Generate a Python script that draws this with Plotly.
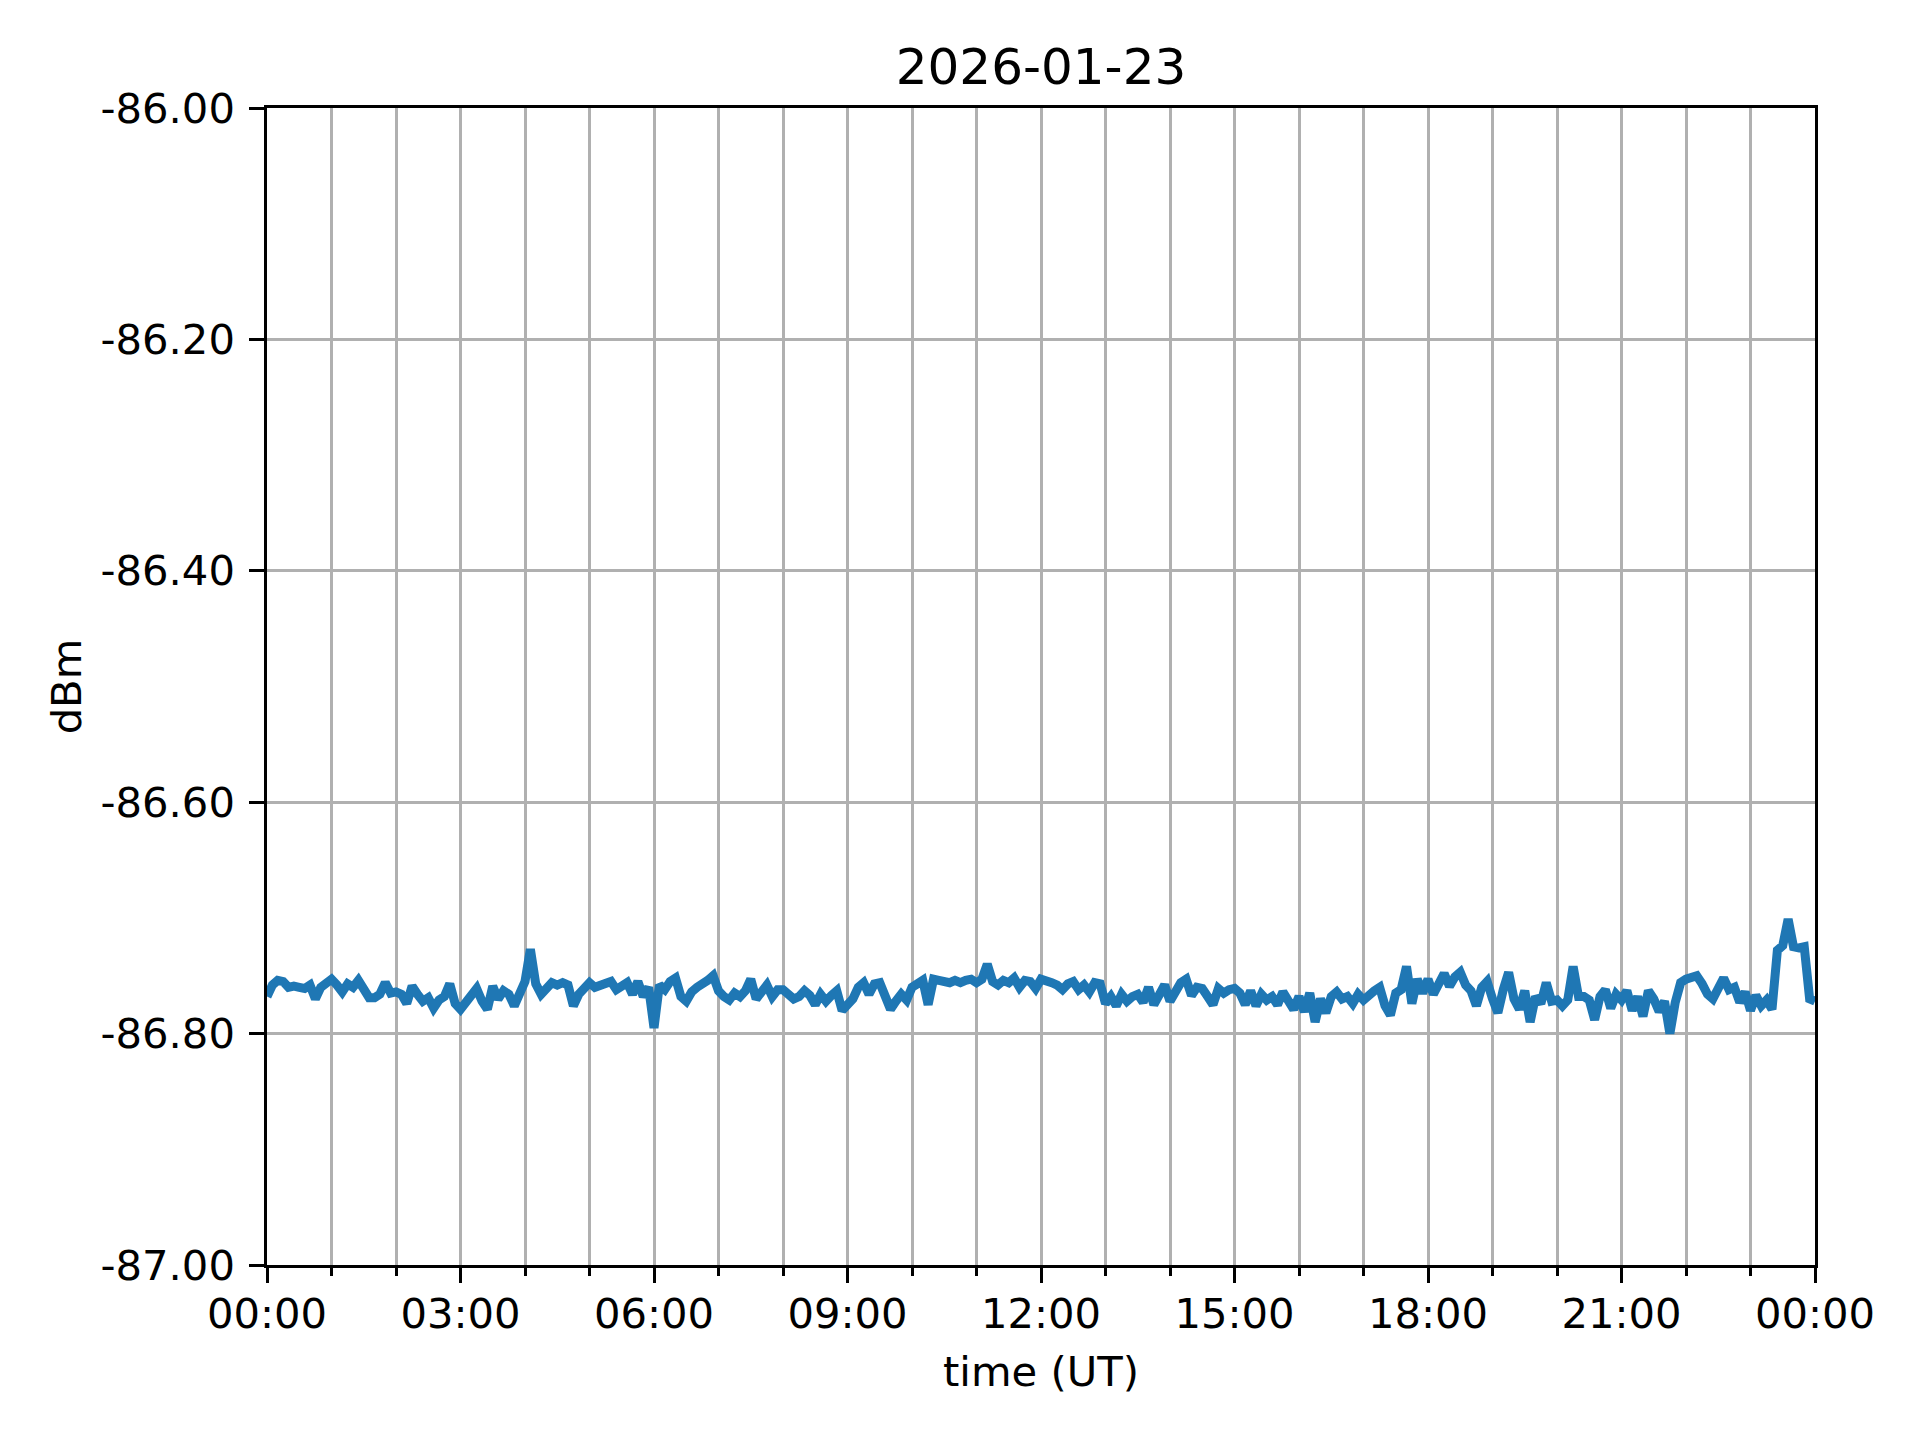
import pandas as pd
import plotly.graph_objects as go

# 5-minute samples, 2026-01-23 00:00 .. 2026-01-24 00:00 (UT)
start_time = '2026-01-23 00:00'
sample_step = '5min'

dbm_h00 = [-86.768, -86.758, -86.754, -86.755, -86.760, -86.759, -86.760, -86.761, -86.758, -86.770, -86.760, -86.757]
dbm_h01 = [-86.753, -86.758, -86.764, -86.757, -86.760, -86.754, -86.763, -86.769, -86.769, -86.766, -86.756, -86.765]
dbm_h02 = [-86.764, -86.766, -86.774, -86.759, -86.766, -86.772, -86.769, -86.778, -86.771, -86.768, -86.757, -86.774]
dbm_h03 = [-86.779, -86.772, -86.765, -86.761, -86.772, -86.779, -86.759, -86.770, -86.763, -86.766, -86.776, -86.764]
dbm_h04 = [-86.755, -86.727, -86.757, -86.766, -86.760, -86.756, -86.758, -86.756, -86.758, -86.776, -86.766, -86.760]
dbm_h05 = [-86.756, -86.760, -86.758, -86.757, -86.755, -86.762, -86.758, -86.756, -86.766, -86.755, -86.768, -86.760]
dbm_h06 = [-86.795, -86.758, -86.762, -86.755, -86.752, -86.768, -86.772, -86.764, -86.760, -86.758, -86.754, -86.750]
dbm_h07 = [-86.763, -86.768, -86.771, -86.765, -86.768, -86.763, -86.753, -86.770, -86.765, -86.758, -86.768, -86.762]
dbm_h08 = [-86.762, -86.766, -86.770, -86.768, -86.763, -86.767, -86.775, -86.766, -86.772, -86.767, -86.763, -86.780]
dbm_h09 = [-86.776, -86.770, -86.760, -86.756, -86.766, -86.757, -86.756, -86.768, -86.779, -86.772, -86.766, -86.771]
dbm_h10 = [-86.760, -86.757, -86.754, -86.775, -86.753, -86.754, -86.755, -86.756, -86.754, -86.756, -86.754, -86.753]
dbm_h11 = [-86.756, -86.753, -86.740, -86.755, -86.758, -86.754, -86.756, -86.752, -86.760, -86.754, -86.755, -86.761]
dbm_h12 = [-86.753, -86.754, -86.756, -86.758, -86.762, -86.757, -86.755, -86.762, -86.758, -86.764, -86.756, -86.757]
dbm_h13 = [-86.774, -86.768, -86.776, -86.766, -86.772, -86.768, -86.766, -86.773, -86.760, -86.775, -86.766, -86.758]
dbm_h14 = [-86.772, -86.764, -86.756, -86.753, -86.767, -86.760, -86.761, -86.768, -86.775, -86.761, -86.765, -86.762]
dbm_h15 = [-86.761, -86.765, -86.775, -86.763, -86.776, -86.766, -86.771, -86.768, -86.775, -86.764, -86.770, -86.779]
dbm_h16 = [-86.768, -86.781, -86.765, -86.790, -86.770, -86.782, -86.768, -86.764, -86.770, -86.768, -86.774, -86.766]
dbm_h17 = [-86.771, -86.766, -86.763, -86.760, -86.776, -86.784, -86.765, -86.762, -86.742, -86.774, -86.753, -86.765]
dbm_h18 = [-86.753, -86.766, -86.756, -86.748, -86.759, -86.751, -86.747, -86.758, -86.763, -86.776, -86.760, -86.755]
dbm_h19 = [-86.770, -86.782, -86.762, -86.747, -86.770, -86.779, -86.763, -86.790, -86.768, -86.774, -86.756, -86.772]
dbm_h20 = [-86.771, -86.776, -86.771, -86.742, -86.768, -86.768, -86.771, -86.788, -86.768, -86.762, -86.778, -86.766]
dbm_h21 = [-86.771, -86.763, -86.780, -86.768, -86.785, -86.763, -86.770, -86.781, -86.772, -86.800, -86.773, -86.756]
dbm_h22 = [-86.753, -86.751, -86.750, -86.757, -86.766, -86.770, -86.760, -86.752, -86.762, -86.760, -86.773, -86.764]
dbm_h23 = [-86.780, -86.767, -86.776, -86.771, -86.779, -86.728, -86.724, -86.701, -86.725, -86.726, -86.725, -86.770]
dbm_end = [-86.772]

y_tickvals = [-87.0, -86.8, -86.6, -86.4, -86.2, -86.0]
y_ticktext = ['-87.00', '-86.80', '-86.60', '-86.40', '-86.20', '-86.00']

power = (dbm_h00 + dbm_h01 + dbm_h02 + dbm_h03 + dbm_h04 + dbm_h05 + dbm_h06 + dbm_h07
         + dbm_h08 + dbm_h09 + dbm_h10 + dbm_h11 + dbm_h12 + dbm_h13 + dbm_h14 + dbm_h15
         + dbm_h16 + dbm_h17 + dbm_h18 + dbm_h19 + dbm_h20 + dbm_h21 + dbm_h22 + dbm_h23
         + dbm_end)
times = pd.date_range(start_time, periods=len(power), freq=sample_step)

FONT = 'DejaVu Sans'
HOUR_MS = 3600 * 1000

_AXIS_STYLE = dict(
    showline=True,
    linecolor='black',
    linewidth=3.3,
    mirror=True,
    showgrid=True,
    gridcolor='#b0b0b0',
    gridwidth=3.3,
    zeroline=False,
    ticks='outside',
    ticklen=14.6,
    tickwidth=3.3,
    tickcolor='black',
    tickfont=dict(family=FONT, size=41.7, color='black'),
)

trace = go.Scatter(
    x=times,
    y=power,
    mode='lines',
    line=dict(color='#1f77b4', width=9),
    showlegend=False,
)

fig = go.Figure(trace)

# the page adds an 8 px body margin, so the margins below are 8 px short on left/top
fig.update_layout(
    width=1920,
    height=1440,
    autosize=False,
    paper_bgcolor='white',
    plot_bgcolor='white',
    margin=dict(l=259, r=113, t=100, b=183),
    font=dict(family=FONT, color='black'),
    title=dict(
        text='2026-01-23',
        x=0.5,
        xanchor='center',
        xref='paper',
        y=1 - 76 / 1440,
        yanchor='bottom',
        font=dict(family=FONT, size=50, color='black'),
    ),
    xaxis=dict(
        title=dict(text='time (UT)', font=dict(family=FONT, size=41.7), standoff=21),
        type='date',
        range=[times[0], times[-1]],
        dtick=3 * HOUR_MS,
        tick0=times[0],
        tickformat='%H:%M',
        ticklabelstandoff=-5,
        minor=dict(
            dtick=HOUR_MS,
            tick0=times[0],
            showgrid=True,
            gridcolor='#b0b0b0',
            gridwidth=3.3,
            ticks='outside',
            ticklen=8.3,
            tickwidth=3.3,
            tickcolor='black',
        ),
        **_AXIS_STYLE,
    ),
    yaxis=dict(
        title=dict(text='dBm', font=dict(family=FONT, size=41.7), standoff=6),
        range=[-87.0, -86.0],
        tickvals=y_tickvals,
        ticktext=y_ticktext,
        ticklabelstandoff=6,
        **_AXIS_STYLE,
    ),
)

fig.write_html('out.html')
